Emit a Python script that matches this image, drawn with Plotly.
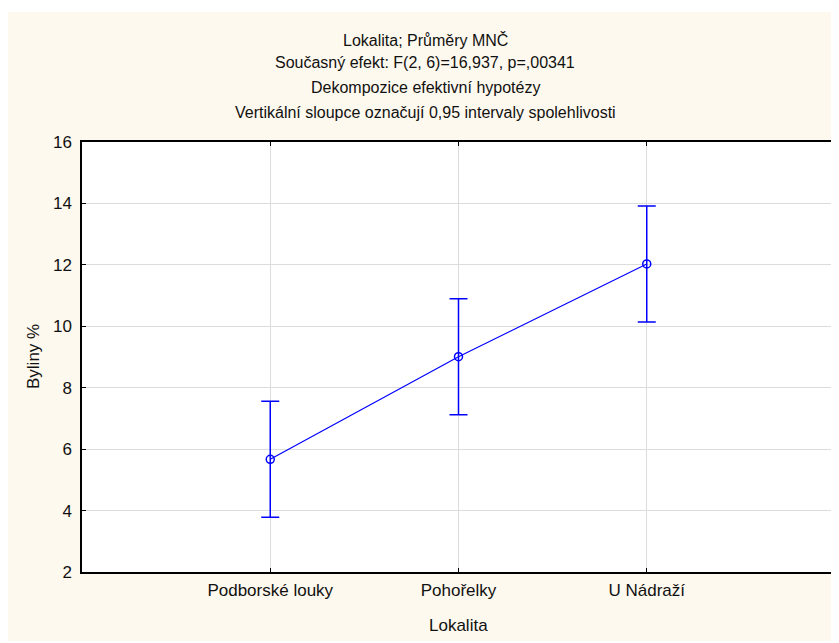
import plotly.graph_objects as go

categories = ["Podborské louky", "Pohořelky", "U Nádraží"]
means = [5.67, 9.01, 12.03]
ci_half = [1.89, 1.89, 1.89]
y_ticks = [2, 4, 6, 8, 10, 12, 14, 16]
title_lines = [
    "Lokalita; Průměry MNČ",
    "Současný efekt: F(2, 6)=16,937, p=,00341",
    "Dekompozice efektivní hypotézy",
    "Vertikální sloupce označují 0,95 intervaly spolehlivosti",
]
x_title = "Lokalita"
y_title = "Byliny %"

# figure is placed at page offset (8, 8) by the default body margin
W, H = 831, 633
L, R, T, B = 74, 4, 134, 69
PW = W - L - R
PH = H - T - B
FONT = "Liberation Sans, Arial, sans-serif"
BLUE = "#0000FF"
CREAM = "#FEF9EE"
TXT = "#111111"


def px_x(p):
    return (p - L) / PW


def px_y(p):
    return (H - B - p) / PH


fig = go.Figure()
fig.add_trace(go.Scatter(
    x=categories, y=means, mode="lines+markers",
    line=dict(color=BLUE, width=1.2),
    marker=dict(symbol="circle-open", size=8, color=BLUE, line=dict(width=1.5, color=BLUE)),
    error_y=dict(type="data", array=ci_half, visible=True, color=BLUE, thickness=1.5, width=9),
    showlegend=False,
))

annotations = []
title_px = [32, 55, 79, 104]
for txt, yp in zip(title_lines, title_px):
    annotations.append(dict(
        text=txt, xref="paper", yref="paper", x=px_x(417), y=px_y(yp),
        xanchor="center", yanchor="middle", showarrow=False,
        font=dict(family=FONT, size=16, color=TXT),
    ))
annotations.append(dict(
    text=x_title, xref="paper", yref="paper", x=0.5, y=px_y(617),
    xanchor="center", yanchor="middle", showarrow=False,
    font=dict(family=FONT, size=17, color=TXT),
))
annotations.append(dict(
    text=y_title, xref="paper", yref="paper", x=px_x(25), y=0.5,
    xanchor="center", yanchor="middle", showarrow=False, textangle=-90,
    font=dict(family=FONT, size=17, color=TXT),
))

fig.update_layout(
    width=W, height=H,
    margin=dict(l=L, r=R, t=T, b=B, autoexpand=False),
    paper_bgcolor=CREAM,
    plot_bgcolor="white",
    font=dict(family=FONT, size=17, color=TXT),
    annotations=annotations,
    shapes=[dict(
        type="rect", xref="paper", yref="paper", layer="below",
        x0=px_x(-2), x1=px_x(W + 2), y0=px_y(4), y1=px_y(-2),
        fillcolor="white", line=dict(width=0),
    )],
)
fig.update_xaxes(
    type="category", range=[-1, 3],
    showgrid=True, gridcolor="#DCDCDC", gridwidth=1,
    showline=True, linecolor="black", linewidth=1.5, mirror="ticks",
    ticks="inside", ticklen=4, tickcolor="black", tickwidth=1,
    ticklabelstandoff=2,
    tickfont=dict(family=FONT, size=17, color=TXT),
    zeroline=False,
)
fig.update_yaxes(
    range=[2, 16], tickvals=y_ticks, ticktext=[str(v) for v in y_ticks],
    showgrid=True, gridcolor="#DCDCDC", gridwidth=1,
    showline=True, linecolor="black", linewidth=1.5, mirror="ticks",
    ticks="inside", ticklen=4, tickcolor="black", tickwidth=1,
    ticklabelstandoff=5,
    tickfont=dict(family=FONT, size=17, color=TXT),
    zeroline=False,
)

fig.write_html("out.html")
